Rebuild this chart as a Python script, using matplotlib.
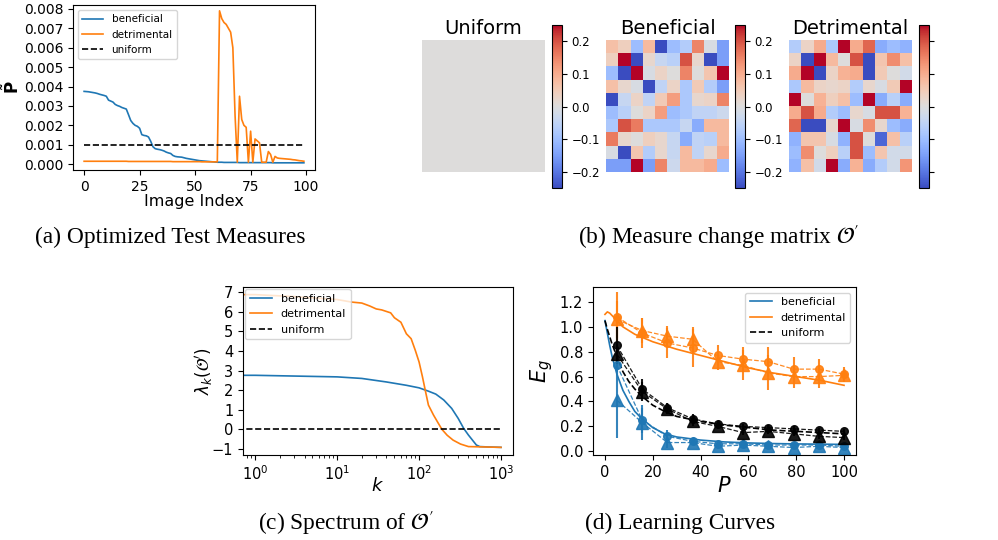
import matplotlib
matplotlib.use('Agg')
import matplotlib.pyplot as plt
import numpy as np

# ── data: (a) optimized test measures ─────────────────────────────────────────
image_index = list(range(100))
p_beneficial = [
    .00375, .00374, .00373, .00371, .00369, .00367, .00364, .00360, .00357, .00354,
    .00350, .00330, .00325, .00320, .00308, .00302, .00298, .00292, .00288, .00284,
    .00255, .00225, .00210, .00200, .00195, .00185, .00152, .00148, .00146, .00140,
    .00118, .00090, .00080, .00077, .00075, .00072, .00068, .00062, .00058, .00055,
    .00045, .00040, .00038, .00037, .00036, .00033, .00030, .00028, .00026, .00024,
    .00022, .00020, .00018, .00017, .00016, .00015, .00014, .00013, .00012, .00011,
    .00010, .00010, .00010, .00009, .00009, .00009, .00009, .00009, .00009, .00009,
    .00008, .00008, .00008, .00008, .00008, .00008, .00008, .00008, .00008, .00008,
    .00008, .00008, .00008, .00008, .00008, .00007, .00007, .00007, .00007, .00007,
    .00007, .00007, .00007, .00007, .00007, .00007, .00007, .00007, .00007, .00007,
]
p_detrimental = [
    .00015, .00015, .00015, .00015, .00015, .00015, .00015, .00015, .00015, .00015,
    .00015, .00015, .00015, .00015, .00015, .00015, .00015, .00015, .00015, .00015,
    .00014, .00014, .00014, .00014, .00014, .00014, .00014, .00014, .00014, .00014,
    .00014, .00014, .00014, .00014, .00014, .00014, .00014, .00014, .00014, .00014,
    .00013, .00013, .00013, .00013, .00013, .00013, .00013, .00013, .00013, .00013,
    .00013, .00013, .00013, .00012, .00012, .00012, .00012, .00012, .00012, .00012,
    .00012, .00790, .00750, .00730, .00720, .00700, .00680, .00600, .00250, .00010,
    .00350, .00230, .00200, .00190, .00010, .00170, .00010, .00130, .00120, .00110,
    .00010, .00010, .00010, .00065, .00050, .00010, .00040, .00032, .00030, .00029,
    .00028, .00027, .00026, .00025, .00023, .00022, .00020, .00018, .00017, .00015,
]
p_uniform = [0.001] * 100

# ── data: (b) measure change matrices ────────────────────────────────────────
O_uniform = [[0.0] * 10 for _ in range(10)]
O_beneficial = [
    [0.07, 0.04, -0.10, 0.08, -0.25, -0.10, -0.07, 0.15, -0.01, -0.15],
    [0.04, 0.25, -0.25, 0.02, -0.04, -0.06, 0.20, 0.02, -0.25, -0.15],
    [-0.10, -0.25, 0.25, -0.01, 0.03, 0.00, 0.15, 0.00, 0.06, 0.25],
    [0.07, 0.02, -0.01, -0.25, -0.05, 0.03, -0.08, 0.05, -0.07, -0.15],
    [-0.25, -0.04, 0.03, -0.05, 0.05, 0.12, -0.08, 0.02, 0.03, 0.15],
    [-0.10, -0.06, 0.00, 0.03, 0.12, -0.10, -0.08, -0.05, -0.05, -0.03],
    [-0.08, 0.20, 0.16, -0.08, -0.08, -0.08, -0.04, -0.13, 0.08, 0.08],
    [0.16, 0.02, 0.00, 0.04, 0.02, -0.04, -0.13, -0.05, -0.06, 0.08],
    [-0.01, -0.25, 0.06, -0.07, 0.02, -0.04, 0.08, -0.05, 0.02, 0.10],
    [-0.15, -0.15, 0.25, -0.15, 0.15, -0.03, 0.08, 0.08, 0.10, -0.10],
]
O_detrimental = [
    [-0.07, 0.03, 0.10, -0.08, 0.25, 0.10, 0.18, -0.13, -0.10, -0.12],
    [0.03, -0.25, 0.25, 0.08, 0.00, 0.20, -0.25, 0.06, 0.14, 0.07],
    [0.10, 0.25, -0.25, 0.03, 0.09, 0.10, -0.25, 0.05, 0.00, -0.02],
    [-0.08, 0.08, 0.03, 0.02, 0.03, -0.07, 0.02, -0.01, 0.05, 0.25],
    [0.25, 0.00, 0.09, 0.04, 0.07, -0.10, 0.25, -0.13, -0.06, -0.13],
    [0.10, 0.20, 0.10, -0.07, -0.10, 0.02, -0.01, 0.20, 0.20, 0.09],
    [0.18, -0.25, -0.25, 0.02, 0.25, -0.01, 0.14, 0.02, -0.10, -0.13],
    [-0.12, 0.06, 0.06, -0.01, -0.12, 0.20, 0.00, -0.22, 0.07, -0.06],
    [-0.10, 0.14, 0.00, 0.04, -0.06, 0.20, -0.10, 0.06, -0.02, -0.02],
    [-0.12, 0.07, -0.02, 0.25, -0.13, 0.09, -0.13, -0.07, -0.02, 0.13],
]

# ── data: (c) spectrum ───────────────────────────────────────────────────────
k_ben = [0, 1, 10, 20, 40, 70, 100, 130, 160, 200, 250, 300, 350, 400, 500, 550, 700, 999]
lam_ben = [2.76, 2.76, 2.68, 2.60, 2.42, 2.25, 2.12, 1.95, 1.80, 1.50, 1.07, 0.56, 0.05,
           -0.29, -0.80, -0.88, -0.90, -0.92]
k_det = [0, 1, 3, 10, 15, 20, 25, 30, 35, 45, 50, 60, 70, 80, 90, 100, 110, 120, 130,
         150, 170, 190, 220, 260, 320, 400, 999]
lam_det = [6.88, 6.88, 6.78, 6.63, 6.50, 6.45, 6.30, 6.15, 6.10, 5.95, 5.70, 5.47, 4.88,
           4.63, 4.03, 3.44, 2.68, 1.92, 1.24, 0.73, 0.34, 0.00, -0.30, -0.55, -0.75,
           -0.88, -0.92]
k_uni = [0, 1, 999]
lam_uni = [0.0, 0.0, 0.0]

# ── data: (d) learning curves ────────────────────────────────────────────────
P_pts = [5, 15.6, 26.1, 36.7, 47.2, 57.8, 68.3, 78.9, 89.4, 100]
P_th = [0, 1, 2, 3, 5, 7.5, 10, 12.5, 15, 20, 25, 30, 40, 50, 60, 70, 80, 90, 100]

ben_th = [1.05, 0.95, 0.85, 0.76, 0.62, 0.49, 0.40, 0.32, 0.27, 0.19, 0.14, 0.115,
          0.09, 0.075, 0.067, 0.062, 0.059, 0.057, 0.055]
ben_circ = [0.69, 0.25, 0.12, 0.08, 0.06, 0.06, 0.05, 0.05, 0.05, 0.04]
ben_circ_err = [0.05, 0.10, 0.05, 0.02, 0.02, 0.02, 0.02, 0.01, 0.01, 0.01]
ben_tri = [0.41, 0.23, 0.07, 0.07, 0.04, 0.05, 0.04, 0.03, 0.04, 0.03]
ben_tri_err = [0.30, 0.14, 0.04, 0.02, 0.02, 0.02, 0.02, 0.01, 0.01, 0.01]

det_th = [1.10, 1.12, 1.11, 1.09, 1.05, 1.00, 0.97, 0.94, 0.92, 0.88, 0.85, 0.82,
          0.77, 0.72, 0.67, 0.63, 0.60, 0.57, 0.53]
det_circ = [1.08, 0.95, 0.87, 0.83, 0.77, 0.74, 0.72, 0.66, 0.66, 0.62]
det_circ_err = [0.20, 0.12, 0.12, 0.15, 0.08, 0.10, 0.12, 0.10, 0.08, 0.06]
det_tri = [1.06, 0.97, 0.925, 0.90, 0.72, 0.69, 0.63, 0.60, 0.60, 0.61]
det_tri_err = [0.15, 0.10, 0.08, 0.10, 0.07, 0.12, 0.14, 0.09, 0.09, 0.05]

uni_th = [1.05, 0.98, 0.92, 0.86, 0.76, 0.64, 0.56, 0.50, 0.45, 0.37, 0.32, 0.28,
          0.24, 0.21, 0.19, 0.17, 0.16, 0.15, 0.14]
uni_circ = [0.85, 0.50, 0.35, 0.26, 0.22, 0.20, 0.19, 0.18, 0.17, 0.16]
uni_circ_err = [0.15, 0.08, 0.04, 0.04, 0.02, 0.02, 0.02, 0.02, 0.02, 0.02]
uni_tri = [0.78, 0.48, 0.34, 0.24, 0.20, 0.15, 0.16, 0.14, 0.12, 0.11]
uni_tri_err = [0.08, 0.08, 0.04, 0.04, 0.02, 0.02, 0.02, 0.02, 0.02, 0.02]

BLUE = '#1f77b4'
ORANGE = '#ff7f0e'

W, H = 998, 540
fig = plt.figure(figsize=(W / 100, H / 100), dpi=100)


def px_axes(left, top, width, height):
    return fig.add_axes([left / W, 1 - (top + height) / H, width / W, height / H])


# ── (a) ──────────────────────────────────────────────────────────────────────
ax = px_axes(73, 5, 242, 165)
ax.plot(image_index, p_beneficial, color=BLUE, lw=1.2, label='beneficial')
ax.plot(image_index, p_detrimental, color=ORANGE, lw=1.2, label='detrimental')
ax.plot(image_index, p_uniform, 'k--', lw=1.2, label='uniform')
ax.set_xlim(-5, 104)
ax.set_ylim(-0.0003, 0.0082)
ax.set_yticks(np.arange(0, 0.0081, 0.001))
ax.yaxis.set_major_formatter(matplotlib.ticker.FormatStrFormatter('%.3f'))
ax.tick_params(labelsize=10)
ax.set_xlabel('Image Index', fontsize=11.5)
ax.xaxis.set_label_coords(0.5, -0.145)
ax.set_ylabel(r'$\tilde{\mathbf{P}}$', fontsize=12)
ax.yaxis.set_label_coords(-0.205, 0.5)
ax.legend(loc='upper left', fontsize=7.5)

# ── (b) ──────────────────────────────────────────────────────────────────────
mats = [(O_uniform, 'Uniform', 422, 552), (O_beneficial, 'Beneficial', 606, 735),
        (O_detrimental, 'Detrimental', 789, 919)]
for i, (M, title, x0, cx) in enumerate(mats):
    axm = px_axes(x0, 40, 123, 132)
    im = axm.imshow(np.array(M), cmap='coolwarm', vmin=-0.25, vmax=0.25, aspect='auto')
    axm.set_xticks([])
    axm.set_yticks([])
    for s in axm.spines.values():
        s.set_visible(False)
    axm.set_title(title, fontsize=14, pad=4)
    cax = px_axes(cx, 25, 10, 163)
    cb = fig.colorbar(im, cax=cax, ticks=[-0.2, -0.1, 0.0, 0.1, 0.2])
    cb.ax.tick_params(labelsize=8.5)
    if i == 2:
        cb.ax.set_yticklabels([])

# ── (c) ──────────────────────────────────────────────────────────────────────
ax = px_axes(243, 287, 270, 168)
ax.plot(k_ben, lam_ben, color=BLUE, lw=1.2, label='beneficial')
ax.plot(k_det, lam_det, color=ORANGE, lw=1.2, label='detrimental')
ax.plot(k_uni, lam_uni, 'k--', lw=1.2, label='uniform')
ax.set_xscale('log')
ax.set_xlim(0.71, 1400)
ax.set_ylim(-1.31, 7.27)
ax.set_yticks(range(-1, 8))
ax.tick_params(labelsize=10.5)
ax.set_xlabel('$k$', fontsize=13)
ax.xaxis.set_label_coords(0.5, -0.13)
ax.set_ylabel(r"$\lambda_k(\mathcal{O}^{\prime})$", fontsize=12)
ax.yaxis.set_label_coords(-0.104, 0.5)
ax.legend(loc='upper left', fontsize=8, borderaxespad=0.2)

# ── (d) ──────────────────────────────────────────────────────────────────────
ax = px_axes(593, 287, 263, 168)
for th, th_ls, circ, cerr, tri, terr, col, lab in [
        (ben_th, '-', ben_circ, ben_circ_err, ben_tri, ben_tri_err, BLUE, 'beneficial'),
        (det_th, '-', det_circ, det_circ_err, det_tri, det_tri_err, ORANGE, 'detrimental'),
        (uni_th, '--', uni_circ, uni_circ_err, uni_tri, uni_tri_err, 'k', 'uniform')]:
    ax.plot(P_th, th, color=col, ls=th_ls, lw=1.2, label=lab)
    ax.errorbar(P_pts, circ, yerr=cerr, color=col, marker='o', ms=5.5, ls='--', lw=0.9,
                elinewidth=1.5, ecolor=col, alpha=0.9)
    ax.errorbar(P_pts, tri, yerr=terr, color=col, marker='^', ms=8, ls='--', lw=0.9,
                elinewidth=1.5, ecolor=col, alpha=0.9)
ax.set_xlim(-5, 105)
ax.set_ylim(-0.03, 1.32)
ax.set_xticks(range(0, 101, 20))
ax.set_yticks(np.arange(0, 1.21, 0.2))
ax.tick_params(labelsize=10.5)
ax.set_xlabel('$P$', fontsize=15)
ax.xaxis.set_label_coords(0.5, -0.125)
ax.set_ylabel('$E_g$', fontsize=15)
ax.yaxis.set_label_coords(-0.145, 0.5)
ax.legend(loc='upper right', fontsize=8)

# ── captions ─────────────────────────────────────────────────────────────────
cap = dict(ha='center', va='center', fontsize=16.8, family='Liberation Serif')
fig.text(170 / W, 1 - 237 / H, '(a) Optimized Test Measures', **cap)
fig.text(719 / W, 1 - 237 / H, r"(b) Measure change matrix $\mathcal{O}'$",
         math_fontfamily='stix', **cap)
fig.text(346 / W, 1 - 523 / H, r"(c) Spectrum of $\mathcal{O}'$",
         math_fontfamily='stix', **cap)
fig.text(680 / W, 1 - 523 / H, '(d) Learning Curves', **cap)

fig.savefig('out.png', dpi=100)
